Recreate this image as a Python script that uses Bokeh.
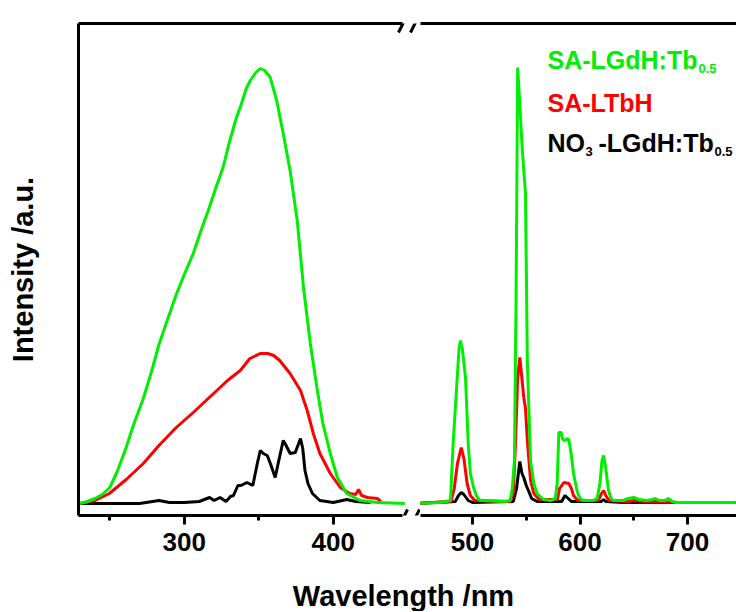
from bokeh.plotting import figure
from bokeh.models import Range1d, FixedTicker, LinearAxis, Label, PolyAnnotation
from bokeh.layouts import row, column
from bokeh.embed import file_html
from bokeh.resources import INLINE

# ---------------- data ----------------
# excitation spectra (left panel)
ex_wl_green = [230, 235, 240, 245, 250, 255, 261, 266, 272.5, 278, 283, 289, 294.6, 300, 306, 311,
               316.8, 321, 326, 330, 335, 338, 341.6, 344.3, 348, 351, 354, 357.7, 362, 366.4, 371,
               375.8, 380, 384.6, 389, 393, 398, 402.7, 409, 418, 430, 448]
ex_green = [0, 4, 10, 18, 32, 64, 112, 158, 210, 264, 318, 370, 418, 458, 500, 544,
            592, 630, 672, 720, 772, 796, 830, 846, 862, 870, 866, 852, 806, 740, 666,
            566, 432, 320, 232, 160, 100, 52, 20, 6, 2, 0]

ex_wl_red = [230, 240, 249.7, 261, 272.5, 283, 294.6, 306, 316.8, 329, 337.6, 344, 351, 356, 360,
             364, 371, 378, 382.5, 386.6, 391, 398, 404.7, 411, 415, 417, 419, 423, 429.5, 432]
ex_red = [0, 6, 20, 48, 80, 116, 152, 182, 212, 246, 266, 290, 300, 300, 296,
          286, 260, 226, 186, 140, 100, 60, 32, 20, 18, 28, 16, 12, 10, 4]

ex_wl_black = [230, 270, 283, 290, 300, 310, 317, 320, 324, 328, 331, 333, 336, 338, 342, 346, 349,
               351, 353, 355.7, 358, 361, 363, 366.4, 368, 371, 374.5, 377, 378, 379.5, 381, 383,
               386, 391, 400, 409, 415, 425]
ex_black = [0, 0, 6, 2, 2, 4, 12, 6, 12, 4, 14, 16, 36, 36, 42, 36, 80,
            106, 100, 96, 78, 52, 80, 126, 118, 100, 102, 122, 130, 110, 66, 40,
            20, 6, 2, 8, 4, 2]

# emission spectra (right panel)
em_wl_green = [448, 470, 479.5, 482, 484, 485.8, 487.5, 488.8, 490.5, 493.5, 496, 498, 501, 504, 507,
               530, 535, 537, 539, 540.5, 542, 544, 546, 547.7, 549.3, 551, 554, 557, 560, 566,
               572.6, 577, 578.8, 580.3, 582.5, 584, 586.5, 588, 589.6, 592, 594, 597.4, 600, 603,
               612, 616, 618.5, 620.5, 622, 624, 626.5, 629, 631, 640, 645, 650, 655, 662, 667,
               670, 674, 679, 682, 686, 690, 745]
em_green = [0, 2, 6, 120, 190, 252, 310, 326, 310, 252, 120, 60, 32, 14, 6,
            4, 6, 30, 86, 400, 872, 800, 720, 666, 620, 286, 86, 40, 20, 8,
            6, 10, 40, 142, 142, 128, 126, 130, 128, 96, 60, 24, 10, 6,
            6, 10, 40, 86, 96, 70, 26, 10, 6, 6, 10, 12, 8, 6, 8,
            10, 6, 6, 10, 4, 2, 2]

em_wl_red = [448, 480, 483, 486, 489.5, 492, 495, 498, 502, 535, 538, 540, 542, 544, 546, 547.7,
             549.3, 551, 554, 557, 562, 579, 581, 585, 589.6, 592, 594, 598, 617, 620, 622, 624,
             627, 645, 650, 660, 670, 690, 745]
em_red = [0, 4, 30, 80, 112, 90, 40, 16, 6, 4, 20, 120, 250, 292, 250, 212,
          190, 126, 46, 20, 8, 8, 30, 42, 40, 30, 16, 6, 6, 20, 26, 16,
          6, 4, 6, 4, 4, 2, 2]

em_wl_black = [448, 484, 487, 489.5, 492, 496, 500, 538, 541, 544, 546, 547.7, 550, 552, 555, 560,
               583, 586, 589, 592, 620, 622, 624, 640, 745]
em_black = [0, 4, 16, 22, 18, 6, 2, 4, 30, 84, 60, 52, 36, 26, 10, 4,
            4, 16, 10, 4, 4, 8, 4, 2, 2]

left_major = [300, 400]
left_minor = [250, 350]
right_major = [500, 600, 700]
right_minor = [550, 650]

GREEN = "#00ee00"
RED = "#ff0000"
BLACK = "#000000"
FONT = "Liberation Sans"

# ---------------- geometry (page px) ----------------
L_START, L_PX = 229.0, 1.49        # nm at left frame edge, px per nm
R_REF, R_REF_PX, R_PX = 500.0, 472.0, 1.075
FRAME_L, BREAK_X, PAGE_R = 78, 420, 736
TOP, BOTTOM = 23, 515
Y_ZERO_PX, Y_SCALE = 503, 0.5      # px per intensity unit

left_w = BREAK_X - FRAME_L
right_w = PAGE_R - BREAK_X
frame_h = BOTTOM - TOP

def lx(px):  # page px -> left nm
    return L_START + (px - FRAME_L) / L_PX

def rx(px):  # page px -> right nm
    return R_REF + (px - R_REF_PX) / R_PX

def yv(py):  # page px -> intensity
    return (Y_ZERO_PX - py) / Y_SCALE

y_range = Range1d(yv(BOTTOM), yv(TOP))
xl = Range1d(lx(FRAME_L), lx(BREAK_X))
xr = Range1d(rx(BREAK_X), rx(PAGE_R))

MB_TOP, MB_BOTTOM, MB_LEFT = TOP, 50, FRAME_L
H = MB_TOP + frame_h + MB_BOTTOM


def style_x_axis(ax, major, minor, bounds, labels=True):
    ax.ticker = FixedTicker(ticks=major, minor_ticks=minor)
    ax.bounds = bounds
    ax.axis_line_width = 3
    ax.axis_line_color = BLACK
    if labels:
        ax.major_tick_in = 0
        ax.major_tick_out = 9
        ax.minor_tick_in = 0
        ax.minor_tick_out = 5
        ax.major_tick_line_width = 3
        ax.minor_tick_line_width = 3
        ax.major_label_text_font = FONT
        ax.major_label_text_font_style = "bold"
        ax.major_label_text_font_size = "26px"
        ax.major_label_text_color = BLACK
        ax.major_label_standoff = 8
    else:
        ax.major_tick_line_color = None
        ax.minor_tick_line_color = None
        ax.major_label_text_font_size = "0px"
        ax.major_label_standoff = 0
        ax.major_tick_out = 0
        ax.minor_tick_out = 0


# ---------------- left panel (excitation) ----------------
pl = figure(width=MB_LEFT + left_w, height=H, x_range=xl, y_range=y_range,
            output_backend="svg", toolbar_location=None, title=None,
            x_axis_location=None, y_axis_location=None,
            min_border_left=MB_LEFT, min_border_right=0,
            min_border_top=MB_TOP, min_border_bottom=MB_BOTTOM)
pl.outline_line_color = None
pl.xgrid.visible = False
pl.ygrid.visible = False

left_bounds = (lx(FRAME_L), lx(402))
bx = LinearAxis()
style_x_axis(bx, left_major, left_minor, left_bounds)
pl.add_layout(bx, "below")
tx = LinearAxis()
style_x_axis(tx, [], [], left_bounds, labels=False)
pl.add_layout(tx, "above")

ya = LinearAxis(ticker=FixedTicker(ticks=[]))
ya.axis_line_width = 3
ya.axis_line_color = BLACK
ya.major_tick_line_color = None
ya.minor_tick_line_color = None
ya.major_label_text_font_size = "0px"
ya.axis_label = "Intensity /a.u."
ya.axis_label_text_font = FONT
ya.axis_label_text_font_style = "bold"
ya.axis_label_text_font_size = "29px"
ya.axis_label_text_color = BLACK
ya.axis_label_standoff = 40
pl.add_layout(ya, "left")

pl.line(ex_wl_black, ex_black, line_color=BLACK, line_width=3)
pl.line(ex_wl_red, ex_red, line_color=RED, line_width=3)
pl.line(ex_wl_green, ex_green, line_color=GREEN, line_width=3)

# break marks (top and bottom)
for yc in (TOP, BOTTOM + 3):
    for x0 in (398, 410):
        pl.add_layout(PolyAnnotation(xs=[lx(x0), lx(x0 + 9)], ys=[yv(yc + 9), yv(yc - 9)],
                                     line_color=BLACK, line_alpha=1.0, line_width=3,
                                     fill_alpha=0))

# ---------------- right panel (emission) ----------------
pr = figure(width=right_w, height=H, x_range=xr, y_range=y_range,
            output_backend="svg", toolbar_location=None, title=None,
            x_axis_location=None, y_axis_location=None,
            min_border_left=0, min_border_right=0,
            min_border_top=MB_TOP, min_border_bottom=MB_BOTTOM)
pr.outline_line_color = None
pr.xgrid.visible = False
pr.ygrid.visible = False

right_bounds = (rx(BREAK_X), rx(PAGE_R))
bx2 = LinearAxis()
style_x_axis(bx2, right_major, right_minor, right_bounds)
pr.add_layout(bx2, "below")
tx2 = LinearAxis()
style_x_axis(tx2, [], [], right_bounds, labels=False)
pr.add_layout(tx2, "above")

pr.line(em_wl_black, em_black, line_color=BLACK, line_width=3)
pr.line(em_wl_red, em_red, line_color=RED, line_width=3)
pr.line(em_wl_green, em_green, line_color=GREEN, line_width=3)

# legend texts
def lab(text, px, py, color, size):
    pr.add_layout(Label(x=rx(px), y=yv(py), text=text, text_color=color,
                        text_font=FONT, text_font_style="bold", text_font_size=size,
                        text_align="left", text_baseline="alphabetic"))

lab("SA-LGdH:Tb", 547, 59, GREEN, "25px")
lab("0.5", 698, 68, GREEN, "13px")
lab("SA-LTbH", 547, 102, RED, "25px")
lab("NO", 547, 142, BLACK, "25px")
lab("3", 585, 151, BLACK, "13px")
lab("-LGdH:Tb", 598, 142, BLACK, "25px")
lab("0.5", 714, 151, BLACK, "13px")

# ---------------- x-axis title strip ----------------
TITLE_H = 46
strip_w = MB_LEFT + left_w + right_w
pt = figure(width=strip_w, height=TITLE_H,
            x_range=Range1d(0, strip_w), y_range=Range1d(0, TITLE_H),
            output_backend="svg", toolbar_location=None, title=None,
            x_axis_location=None, y_axis_location=None, min_border=0)
pt.outline_line_color = None
pt.xgrid.visible = False
pt.ygrid.visible = False
pt.add_layout(Label(x=403, y=TITLE_H / 2 - 7, text="Wavelength /nm",
                    text_color=BLACK, text_font=FONT, text_font_style="bold",
                    text_font_size="29px", text_align="center", text_baseline="middle"))

layout = column(row(pl, pr, spacing=0), pt, spacing=0)

with open("out.html", "w") as f:
    f.write(file_html(layout, INLINE))
